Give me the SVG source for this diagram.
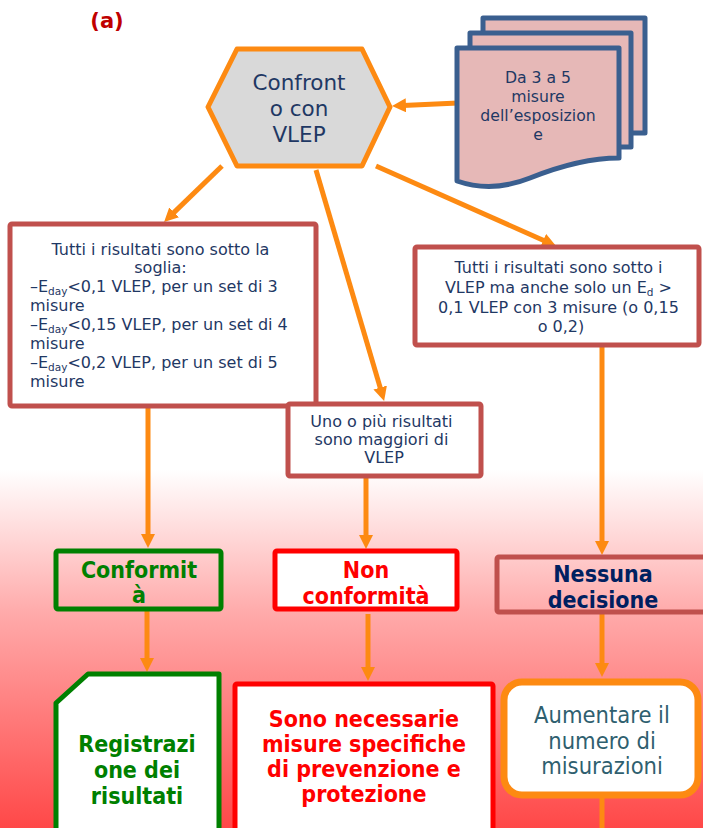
<svg xmlns="http://www.w3.org/2000/svg" width="703" height="828" viewBox="0 0 703 828">
<defs>
<linearGradient id="bg" x1="0" y1="0" x2="0" y2="1">
<stop offset="0" stop-color="#ffffff"/>
<stop offset="0.4" stop-color="#ffaaaa"/>
<stop offset="1" stop-color="#ff4848"/>
</linearGradient>
<marker id="ah" viewBox="0 0 14 14" refX="3" refY="7" markerWidth="14" markerHeight="14" markerUnits="userSpaceOnUse" orient="auto">
<path d="M0,0 L14,7 L0,14 z" fill="#fd8a12"/>
</marker>
<style>
.conn line{stroke:#fd8a12;stroke-width:5;fill:none}
.t{font-family:"DejaVu Sans","Verdana",sans-serif;fill:#1f3864}
.b{font-family:"DejaVu Sans",sans-serif;font-weight:bold;font-stretch:condensed}
.red{stroke:#c0504d;stroke-width:5;fill:#ffffff}
.sub{font-size:10.5px}
</style>
</defs>
<rect x="0" y="0" width="703" height="828" fill="#ffffff"/>
<rect x="0" y="470" width="703" height="358" fill="url(#bg)"/>

<text x="107" y="28" text-anchor="middle" style="font-family:'DejaVu Sans',sans-serif;font-weight:bold;font-size:21px;fill:#c00000">(a)</text>

<g class="conn">
<line x1="458" y1="103" x2="403" y2="105.5" marker-end="url(#ah)"/>
<line x1="222" y1="166" x2="172" y2="214.4" marker-end="url(#ah)"/>
<line x1="316" y1="170" x2="381" y2="390.4" marker-end="url(#ah)"/>
<line x1="376" y1="166" x2="546" y2="241.5" marker-end="url(#ah)"/>
<line x1="148" y1="407" x2="148" y2="537" marker-end="url(#ah)"/>
<line x1="366" y1="477" x2="366" y2="538" marker-end="url(#ah)"/>
<line x1="602" y1="345" x2="602" y2="544" marker-end="url(#ah)"/>
<line x1="147" y1="611" x2="147" y2="661" marker-end="url(#ah)"/>
<line x1="368" y1="614" x2="368" y2="670" marker-end="url(#ah)"/>
<line x1="602" y1="613" x2="602" y2="666" marker-end="url(#ah)"/>
<line x1="602" y1="798" x2="602" y2="828"/>
</g>

<g id="hex">
<polygon points="208,107 237,49 362,49 390,107 362,166 237,166" fill="#d9d9d9" stroke="#fd8a12" stroke-width="5" stroke-linejoin="round"/>
<text class="t" text-anchor="middle" style="font-size:21.5px"><tspan x="299" y="90">Confront</tspan><tspan x="299" y="116">o con</tspan><tspan x="299" y="142">VLEP</tspan></text>
</g>

<g id="docs">
<rect x="483" y="18" width="162" height="115" fill="#e6b8b7" stroke="#3a5f8f" stroke-width="5" stroke-linejoin="round"/>
<rect x="470" y="33" width="161" height="114" fill="#e6b8b7" stroke="#3a5f8f" stroke-width="5" stroke-linejoin="round"/>
<path d="M457,48 H619 V158 C590,158 560,166 530,178 C505,188 480,189 457,181 Z" fill="#e6b8b7" stroke="#3a5f8f" stroke-width="5" stroke-linejoin="round"/>
<text class="t" text-anchor="middle" style="font-size:15.7px"><tspan x="538" y="83">Da 3 a 5</tspan><tspan x="538" y="102">misure</tspan><tspan x="538" y="121">dell’esposizion</tspan><tspan x="538" y="140">e</tspan></text>
</g>

<g id="box1">
<rect x="10" y="224" width="306" height="182" rx="2" class="red"/>
<text class="t" style="font-size:16px">
<tspan x="163" y="255" text-anchor="middle">Tutti i risultati sono sotto la</tspan>
<tspan x="163" y="273" text-anchor="middle">soglia:</tspan>
<tspan x="30" y="292">–E<tspan dy="3" class="sub">day</tspan><tspan dy="-3">&lt;0,1 VLEP, per un set di 3</tspan></tspan>
<tspan x="30" y="311">misure</tspan>
<tspan x="30" y="330">–E<tspan dy="3" class="sub">day</tspan><tspan dy="-3">&lt;0,15 VLEP, per un set di 4</tspan></tspan>
<tspan x="30" y="349">misure</tspan>
<tspan x="30" y="368">–E<tspan dy="3" class="sub">day</tspan><tspan dy="-3">&lt;0,2 VLEP, per un set di 5</tspan></tspan>
<tspan x="30" y="387">misure</tspan>
</text>
</g>

<g id="box2">
<rect x="415" y="247" width="284" height="98" rx="2" class="red"/>
<text class="t" text-anchor="middle" style="font-size:16px">
<tspan x="561" y="273">Tutti i risultati sono sotto i</tspan>
<tspan x="561" y="293">VLEP ma anche solo un E<tspan dy="3" class="sub">d</tspan><tspan dy="-3"> &gt;</tspan></tspan>
<tspan x="561" y="313">0,1 VLEP con 3 misure (o 0,15</tspan>
<tspan x="561" y="332">o 0,2)</tspan>
</text>
</g>

<g id="box3">
<rect x="288" y="404" width="193" height="72" rx="2" class="red"/>
<text class="t" text-anchor="middle" style="font-size:16px">
<tspan x="384" y="427">Uno o più risultati</tspan>
<tspan x="384" y="445">sono maggiori di</tspan>
<tspan x="384" y="463">VLEP</tspan>
</text>
</g>

<g id="conformita">
<rect x="56" y="551" width="165" height="58" rx="2" fill="none" stroke="#008000" stroke-width="5"/>
<text class="b" text-anchor="middle" style="font-size:23px;fill:#008000"><tspan x="139" y="578">Conformit</tspan><tspan x="139" y="603">à</tspan></text>
</g>

<g id="nonconformita">
<rect x="275" y="551" width="182" height="58" rx="2" fill="#ffffff" stroke="#ff0000" stroke-width="5"/>
<text class="b" text-anchor="middle" style="font-size:23px;fill:#ff0000"><tspan x="366" y="578">Non</tspan><tspan x="366" y="604">conformità</tspan></text>
</g>

<g id="nessuna">
<rect x="497" y="557" width="215" height="55" rx="2" fill="none" stroke="#c0504d" stroke-width="5"/>
<text class="b" text-anchor="middle" style="font-size:23px;fill:#002060"><tspan x="603" y="582">Nessuna</tspan><tspan x="603" y="608">decisione</tspan></text>
</g>

<g id="registrazione">
<path d="M88,674 H219 V840 H56 V703 Z" fill="#ffffff" stroke="#008000" stroke-width="5" stroke-linejoin="round"/>
<text class="b" text-anchor="middle" style="font-size:23px;fill:#008000"><tspan x="137" y="752">Registrazi</tspan><tspan x="137" y="778">one dei</tspan><tspan x="137" y="804">risultati</tspan></text>
</g>

<g id="sono">
<rect x="235" y="684" width="258" height="160" rx="2" fill="#ffffff" stroke="#ff0000" stroke-width="5"/>
<text class="b" text-anchor="middle" style="font-size:23px;fill:#ff0000"><tspan x="364" y="727">Sono necessarie</tspan><tspan x="364" y="752">misure specifiche</tspan><tspan x="364" y="777">di prevenzione e</tspan><tspan x="364" y="802">protezione</tspan></text>
</g>

<g id="aumentare">
<rect x="504" y="682" width="194" height="113" rx="18" fill="#ffffff" stroke="#fd8a12" stroke-width="7"/>
<text text-anchor="middle" style="font-family:'DejaVu Sans',sans-serif;font-stretch:condensed;font-size:23.5px;fill:#2f5f6f"><tspan x="602" y="723">Aumentare il</tspan><tspan x="602" y="749">numero di</tspan><tspan x="602" y="774">misurazioni</tspan></text>
</g>
</svg>
